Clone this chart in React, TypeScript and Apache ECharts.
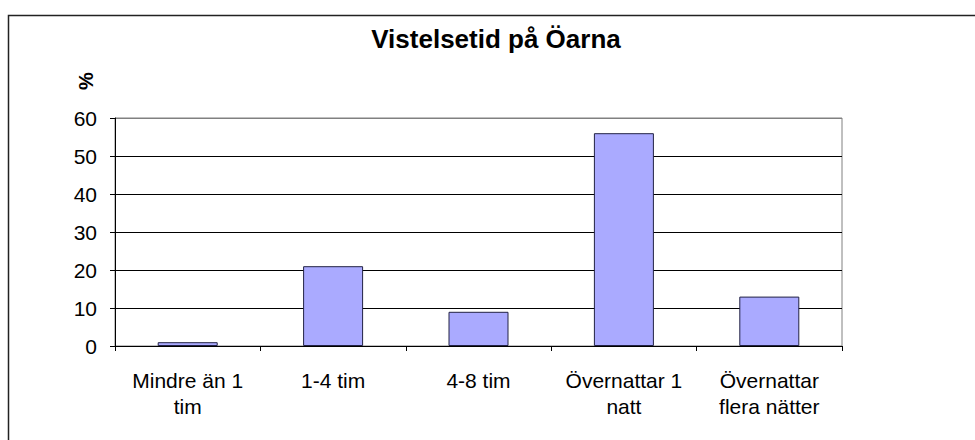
import React, { useEffect, useRef } from "react";
import * as echarts from "echarts";

const categories = ["Mindre än 1\ntim", "1-4 tim", "4-8 tim", "Övernattar 1\nnatt", "Övernattar\nflera nätter"];
const values = [1, 21, 9, 56, 13];
const titleText = "Vistelsetid på Öarna";
const yAxisName = "%";
const yMin = 0;
const yMax = 60;
const yInterval = 10;

const FONT = "'Liberation Sans', Arial, sans-serif";

export default function App() {
  const ref = useRef<HTMLDivElement>(null);
  useEffect(() => {
    if (!ref.current) return;
    const chart = echarts.init(ref.current, undefined, { renderer: "svg" });
    chart.setOption({
      animation: false,
      backgroundColor: "#ffffff",
      title: {
        text: titleText,
        left: 496,
        top: 26,
        padding: 0,
        textAlign: "center",
        textStyle: { fontFamily: FONT, fontSize: 26, fontWeight: "bold", color: "#000" },
      },
      graphic: [
        {
          type: "rect",
          shape: { x: 8.5, y: 15.5, width: 1200, height: 800 },
          style: { fill: "none", stroke: "#222", lineWidth: 1.5 },
          silent: true,
          z: -1,
        },
        {
          type: "text",
          x: 86,
          y: 81,
          rotation: Math.PI / 2,
          style: {
            text: yAxisName,
            fontFamily: FONT,
            fontSize: 20,
            fontWeight: "bold",
            fill: "#000",
            align: "center",
            verticalAlign: "middle",
          },
        },
      ],
      grid: {
        left: 115,
        right: 133,
        top: 118,
        bottom: 94,
        show: true,
        borderColor: "#808080",
        borderWidth: 1,
        backgroundColor: "#fff",
      },
      xAxis: {
        type: "category",
        data: categories,
        boundaryGap: true,
        axisLine: { show: true, lineStyle: { color: "#000", width: 1 } },
        axisTick: { show: true, length: 5, inside: false, lineStyle: { color: "#000" } },
        axisLabel: {
          interval: 0,
          margin: 21,
          fontFamily: FONT,
          fontSize: 21,
          lineHeight: 26,
          color: "#000",
          align: "center",
        },
        splitLine: { show: false },
      },
      yAxis: {
        type: "value",
        min: yMin,
        max: yMax,
        interval: yInterval,
        axisLine: { show: true, lineStyle: { color: "#000", width: 1 } },
        axisTick: { show: true, length: 5, inside: false, lineStyle: { color: "#000" } },
        axisLabel: { margin: 18, fontFamily: FONT, fontSize: 21, color: "#000" },
        splitLine: {
          show: true,
          lineStyle: {
            color: ["#000", "#000", "#000", "#000", "#000", "#000", "#808080"],
            width: 1,
          },
        },
      },
      series: [
        {
          type: "bar",
          data: values,
          barWidth: 60,
          itemStyle: { color: "#aaaaff", borderColor: "#222244", borderWidth: 1 },
        },
      ],
    });
    return () => chart.dispose();
  }, []);
  return (
    <div
      ref={ref}
      style={{ position: "fixed", left: 0, top: 0, width: 975, height: 440, background: "#fff" }}
    />
  );
}
